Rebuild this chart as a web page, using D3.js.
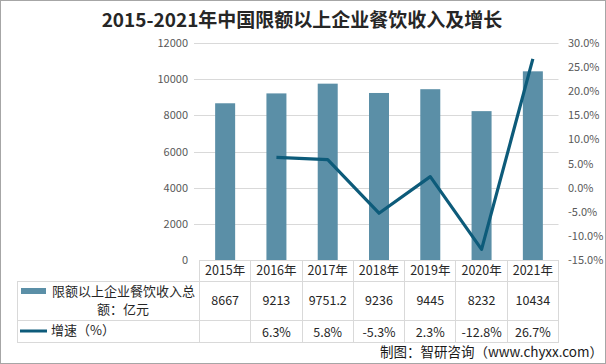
<!DOCTYPE html>
<html>
<head>
<meta charset="utf-8">
<script src="https://cdn.jsdelivr.net/npm/d3@7"></script>
<style>
body{margin:0;background:#fff;}
text{font-family:"Noto Sans CJK SC","Noto Sans",sans-serif;}
</style>
</head>
<body>
<script>
var years = ["2015年","2016年","2017年","2018年","2019年","2020年","2021年"];
var revenue = [8667,9213,9751.2,9236,9445,8232,10434];
var revenueText = ["8667","9213","9751.2","9236","9445","8232","10434"];
var growth = [null,6.3,5.8,-5.3,2.3,-12.8,26.7];
var growthText = ["","6.3%","5.8%","-5.3%","2.3%","-12.8%","26.7%"];
var leftTicks = [0,2000,4000,6000,8000,10000,12000];
var rightTicks = [-15,-10,-5,0,5,10,15,20,25,30];

var W = 606, H = 364;
var barColor = "#5b8fa7", lineColor = "#0d5b7a", gridColor = "#d9d9d9";

var svg = d3.select("body").append("svg")
	.attr("width",W)
	.attr("height",H);

svg.append("rect")
	.attr("x",0.5).attr("y",0.5)
	.attr("width",W-1).attr("height",H-1)
	.attr("fill","#fff").attr("stroke","#a6a6a6");

// title
svg.append("text")
	.attr("x",302).attr("y",27)
	.attr("text-anchor","middle")
	.attr("font-size",19).attr("font-weight","bold")
	.attr("fill","#262626")
	.text("2015-2021年中国限额以上企业餐饮收入及增长");

var x = d3.scaleBand().domain(years).range([199.5,558.5]).padding(0);
var yL = d3.scaleLinear().domain([0,12000]).range([260,43]);
var yR = d3.scaleLinear().domain([-15,30]).range([260,43]);
var barW = 20;

// gridlines
svg.append("g").selectAll("line")
	.data(leftTicks.slice(1))
	.enter().append("line")
	.attr("x1",194).attr("x2",558.5)
	.attr("y1",function(d){return Math.round(yL(d))+0.5;})
	.attr("y2",function(d){return Math.round(yL(d))+0.5;})
	.attr("stroke",gridColor);

// left labels
svg.append("g").selectAll("text")
	.data(leftTicks)
	.enter().append("text")
	.attr("x",188)
	.attr("y",function(d){return yL(d)+4;})
	.attr("text-anchor","end")
	.attr("font-size",11).attr("fill","#595959")
	.text(function(d){return d;});

// right labels
svg.append("g").selectAll("text")
	.data(rightTicks)
	.enter().append("text")
	.attr("x",568)
	.attr("y",function(d){return yR(d)+4;})
	.attr("font-size",11).attr("fill","#595959")
	.text(function(d){return d.toFixed(1)+"%";});

// bars
svg.append("g").selectAll("rect")
	.data(revenue)
	.enter().append("rect")
	.attr("x",function(d,i){return x(years[i])+(x.bandwidth()-barW)/2;})
	.attr("y",function(d){return yL(d);})
	.attr("width",barW)
	.attr("height",function(d){return yL(0)-yL(d);})
	.attr("fill",barColor);

// line
var pts = growth.map(function(d,i){return {v:d,c:years[i]};}).filter(function(d){return d.v!==null;});
var line = d3.line()
	.x(function(d){return x(d.c)+x.bandwidth()/2;})
	.y(function(d){return yR(d.v);});
svg.append("path")
	.datum(pts)
	.attr("d",line)
	.attr("fill","none")
	.attr("stroke",lineColor)
	.attr("stroke-width",3.2)
	.attr("stroke-linejoin","round");

// table
var tbl = svg.append("g").attr("stroke",gridColor).attr("shape-rendering","crispEdges");
var rowY = [260,281.5,320.5,342.5];
tbl.append("line").attr("x1",199.5).attr("x2",558.5).attr("y1",rowY[0]).attr("y2",rowY[0]);
rowY.slice(1).forEach(function(y){
	tbl.append("line").attr("x1",17).attr("x2",558.5).attr("y1",y).attr("y2",y);
});
tbl.append("line").attr("x1",17).attr("x2",17).attr("y1",rowY[1]).attr("y2",rowY[3]);
years.forEach(function(c){
	tbl.append("line").attr("x1",x(c)).attr("x2",x(c)).attr("y1",rowY[0]).attr("y2",rowY[3]);
});
tbl.append("line").attr("x1",558.5).attr("x2",558.5).attr("y1",rowY[0]).attr("y2",rowY[3]);

var cell = svg.append("g").attr("font-size",12.5).attr("fill","#262626").attr("text-anchor","middle");
years.forEach(function(c,i){
	var cx = x(c)+x.bandwidth()/2;
	cell.append("text").attr("x",cx).attr("y",275).text(c);
	cell.append("text").attr("x",cx).attr("y",305).text(revenueText[i]);
	cell.append("text").attr("x",cx).attr("y",336.5).text(growthText[i]);
});

// legend keys
svg.append("rect").attr("x",21).attr("y",288).attr("width",25).attr("height",6).attr("fill",barColor);
svg.append("line").attr("x1",20).attr("x2",47).attr("y1",331).attr("y2",331)
	.attr("stroke",lineColor).attr("stroke-width",3);
svg.append("text").attr("x",52).attr("y",295.5).attr("font-size",13).attr("fill","#262626")
	.text("限额以上企业餐饮收入总");
svg.append("text").attr("x",123).attr("y",314).attr("font-size",13).attr("fill","#262626")
	.attr("text-anchor","middle").text("额：亿元");
svg.append("text").attr("x",51).attr("y",335).attr("font-size",13).attr("fill","#262626")
	.text("增速（%）");

// source
svg.append("text").attr("x",603).attr("y",357).attr("text-anchor","end")
	.attr("font-size",13.5).attr("fill","#1a1a1a")
	.text("制图：智研咨询（www.chyxx.com）");
</script>
</body>
</html>
